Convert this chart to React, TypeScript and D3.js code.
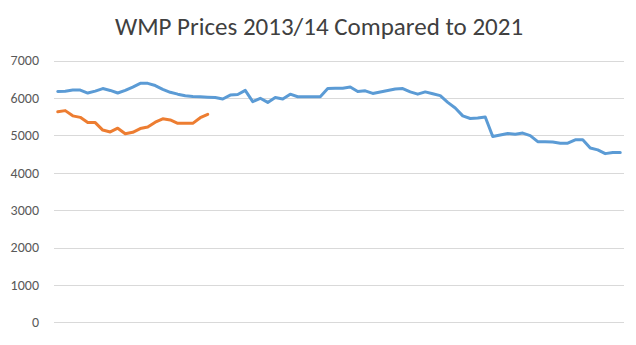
import React from "react";
import * as d3 from "d3";

const title = "WMP Prices 2013/14 Compared to 2021";
const yTicks = [0, 1000, 2000, 3000, 4000, 5000, 6000, 7000];

// Series 1 (blue): 2013/14 auction prices
const prices2013_14 = [
  6170, 6180, 6210, 6210, 6130, 6180, 6250, 6200, 6130, 6200,
  6290, 6390, 6390, 6330, 6230, 6150, 6100, 6060, 6040, 6030,
  6020, 6010, 5970, 6075, 6090, 6200, 5900, 5990, 5880, 6010,
  5970, 6100, 6030, 6030, 6030, 6030, 6250, 6255, 6260, 6290,
  6170, 6190, 6120, 6160, 6200, 6240, 6250, 6160, 6100, 6160,
  6110, 6060, 5880, 5730, 5520, 5450, 5460, 5490, 4970, 5010,
  5050, 5030, 5060, 4990, 4830, 4830, 4820, 4790, 4790, 4880,
  4880, 4660, 4610, 4510, 4540, 4540,
];

// Series 2 (orange): 2021 auction prices
const prices2021 = [
  5630, 5660, 5520, 5480, 5340, 5340, 5140, 5090, 5190, 5040,
  5080, 5180, 5220, 5350, 5440, 5410, 5320, 5320, 5320, 5470,
  5560,
];

const categories = prices2013_14.map((_, i) => String(i + 1));

const W = 636;
const H = 345;
const plotLeft = 54;
const plotRight = 624;
const plotTop = 60.5;
const plotBottom = 322.3;

export default function App() {
  const x = d3
    .scalePoint<string>()
    .domain(categories)
    .range([plotLeft, plotRight])
    .padding(0.5);
  const y = d3.scaleLinear().domain([0, 7000]).range([plotBottom, plotTop]);

  const line = d3
    .line<number>()
    .x((_, i) => x(categories[i]) as number)
    .y((d) => y(d));

  const font = "Calibri, Carlito, Lato, 'Open Sans', sans-serif";

  return (
    <div style={{ position: "fixed", left: 0, top: 0 }}>
      <svg width={W} height={H} style={{ display: "block", background: "#fff" }}>
        <rect x={0} y={0} width={W} height={H} fill="#ffffff" />
        <text
          x={319}
          y={35}
          textAnchor="middle"
          fontFamily={font}
          fontSize={25}
          fill="#404040"
        >
          {title}
        </text>
        {yTicks.map((t) => (
          <g key={t}>
            <line
              x1={plotLeft}
              x2={plotRight}
              y1={Math.round(y(t)) + 0.5}
              y2={Math.round(y(t)) + 0.5}
              stroke="#d9d9d9"
              strokeWidth={1}
            />
            <text
              x={39}
              y={y(t)}
              dy="0.35em"
              textAnchor="end"
              fontFamily={font}
              fontSize={14}
              fill="#595959"
            >
              {t}
            </text>
          </g>
        ))}
        <path
          d={line(prices2013_14) || ""}
          fill="none"
          stroke="#5B9BD5"
          strokeWidth={3}
          strokeLinejoin="round"
          strokeLinecap="round"
        />
        <path
          d={line(prices2021) || ""}
          fill="none"
          stroke="#ED7D31"
          strokeWidth={3}
          strokeLinejoin="round"
          strokeLinecap="round"
        />
      </svg>
    </div>
  );
}
